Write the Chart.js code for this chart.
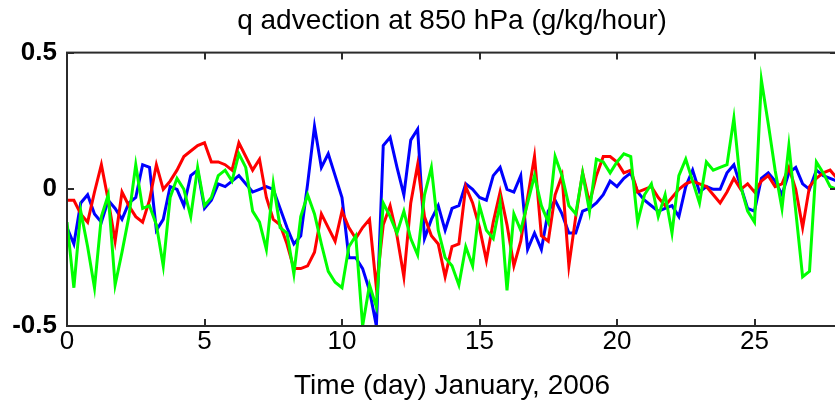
<!DOCTYPE html>
<html>
<head>
<meta charset="utf-8">
<script src="https://cdn.jsdelivr.net/npm/chart.js@4.4.1/dist/chart.umd.min.js"></script>
<style>
  html, body { margin: 0; padding: 0; background: #fff; overflow: hidden; }
  #wrap { position: relative; width: 837px; height: 408px; }
</style>
</head>
<body>
<div id="wrap"><canvas id="c"></canvas></div>
<script>
// time axis, days of January 2006 (6-hourly)
var days = [
  0, 0.25, 0.5, 0.75, 1, 1.25, 1.5, 1.75, 2, 2.25, 2.5, 2.75, 3, 3.25, 3.5, 3.75,
  4, 4.25, 4.5, 4.75, 5, 5.25, 5.5, 5.75, 6, 6.25, 6.5, 6.75, 7, 7.25, 7.5, 7.75,
  8, 8.25, 8.5, 8.75, 9, 9.25, 9.5, 9.75, 10, 10.25, 10.5, 10.75, 11, 11.25, 11.5, 11.75,
  12, 12.25, 12.5, 12.75, 13, 13.25, 13.5, 13.75, 14, 14.25, 14.5, 14.75, 15, 15.25, 15.5, 15.75,
  16, 16.25, 16.5, 16.75, 17, 17.25, 17.5, 17.75, 18, 18.25, 18.5, 18.75, 19, 19.25, 19.5, 19.75,
  20, 20.25, 20.5, 20.75, 21, 21.25, 21.5, 21.75, 22, 22.25, 22.5, 22.75, 23, 23.25, 23.5, 23.75,
  24, 24.25, 24.5, 24.75, 25, 25.25, 25.5, 25.75, 26, 26.25, 26.5, 26.75, 27, 27.25, 27.5, 27.75,
  28
];

// q advection (g/kg/hour), one row per day
var blueQ = [
  -0.14, -0.20, -0.05, -0.02,
  -0.09, -0.12, -0.04, -0.07,
  -0.11, -0.05, -0.03, 0.09,
  0.08, -0.15, -0.11, 0.01,
  0.00, -0.06, 0.05, 0.07,
  -0.07, -0.04, 0.02, 0.01,
  0.03, 0.05, 0.02, -0.01,
  0.00, 0.01, 0.00, -0.07,
  -0.14, -0.20, -0.17, 0.02,
  0.23, 0.08, 0.13, 0.05,
  -0.03, -0.25, -0.25, -0.29,
  -0.37, -0.50, 0.16, 0.19,
  0.08, -0.02, 0.18, 0.22,
  -0.18, -0.11, -0.06, -0.15,
  -0.07, -0.06, 0.02, 0.00,
  -0.03, -0.04, 0.05, 0.08,
  0.00, -0.01, 0.05, -0.22,
  -0.16, -0.22, -0.08, -0.04,
  -0.09, -0.16, -0.16, -0.08,
  -0.07, -0.05, -0.02, 0.03,
  0.01, 0.04, 0.06, -0.01,
  -0.04, -0.06, -0.08, -0.07,
  -0.06, -0.10, 0.01, 0.07,
  -0.01, 0.01, 0.00, 0.00,
  0.06, 0.09, 0.01, -0.07,
  -0.08, 0.04, 0.06, 0.03,
  -0.02, 0.06, 0.08, 0.02,
  0.00, 0.07, 0.05, 0.04,
  0.03
];

var redQ = [
  -0.04, -0.04, -0.09, -0.12,
  -0.01, 0.09, -0.04, -0.19,
  -0.01, -0.06, -0.10, -0.12,
  -0.04, 0.09, 0.00, 0.03,
  0.07, 0.12, 0.14, 0.16,
  0.17, 0.10, 0.10, 0.09,
  0.07, 0.17, 0.12, 0.07,
  0.11, -0.03, -0.11, -0.13,
  -0.20, -0.29, -0.29, -0.28,
  -0.23, -0.09, -0.14, -0.19,
  -0.08, -0.14, -0.18, -0.14,
  -0.11, -0.36, -0.13, -0.06,
  -0.17, -0.32, -0.05, 0.09,
  -0.10, -0.17, -0.20, -0.32,
  -0.21, -0.20, 0.01, -0.05,
  -0.14, -0.26, -0.12, -0.01,
  -0.13, -0.28, -0.19, -0.03,
  0.12, -0.17, -0.19, -0.02,
  0.05, -0.28, -0.10, 0.06,
  -0.05, 0.05, 0.12, 0.12,
  0.10, 0.06, 0.07, -0.01,
  0.00, 0.01, -0.03, -0.06,
  -0.03, 0.00, 0.02, 0.03,
  0.02, 0.01, -0.02, -0.05,
  -0.01, 0.04, 0.00, 0.02,
  -0.01, 0.03, 0.05, 0.01,
  0.02, 0.08, 0.00, -0.14,
  0.01, 0.04, 0.06, 0.07,
  0.04
];

var greenQ = [
  -0.12, -0.36, -0.08, -0.21,
  -0.36, -0.10, -0.02, -0.35,
  -0.23, -0.10, 0.09, -0.07,
  -0.06, -0.13, -0.28, -0.03,
  0.04, 0.00, -0.10, 0.08,
  -0.06, -0.03, 0.05, 0.07,
  0.03, 0.13, 0.08, -0.08,
  -0.12, -0.22, 0.02, -0.14,
  -0.16, -0.31, -0.10, -0.02,
  -0.09, -0.20, -0.30, -0.34,
  -0.36, -0.21, -0.17, -0.50,
  -0.35, -0.43, -0.05, -0.10,
  -0.16, -0.08, -0.18, -0.24,
  -0.02, 0.08, -0.15, -0.25,
  -0.28, -0.35, -0.21, -0.28,
  -0.06, -0.15, -0.18, -0.05,
  -0.37, -0.09, -0.15, -0.05,
  0.05, -0.06, -0.12, 0.12,
  0.05, -0.06, -0.09, 0.06,
  -0.08, 0.11, 0.10, 0.06,
  0.10, 0.13, 0.12, -0.12,
  -0.02, 0.02, -0.10, -0.02,
  -0.16, 0.05, 0.11, 0.03,
  -0.05, 0.10, 0.07, 0.08,
  0.09, 0.26, 0.01, -0.08,
  -0.12, 0.40, 0.24, 0.07,
  -0.07, 0.16, -0.08, -0.32,
  -0.30, 0.10, 0.06, 0.01,
  0.00
];

var xTicks = [0, 5, 10, 15, 20, 25];
var yTicks = [-0.5, 0, 0.5];

var AXIS_COLOR = "#2b2b2b";
var TICK_LEN = 7;

Chart.defaults.font.family = "'Liberation Sans', Arial, sans-serif";
Chart.defaults.color = "#000";

function pts(ys) {
  return days.map(function(d, i) { return { x: d, y: ys[i] }; });
}

function series(data, color, order) {
  return {
    data: pts(data),
    borderColor: color,
    backgroundColor: color,
    borderWidth: 3,
    pointRadius: 0,
    tension: 0,
    fill: false,
    order: order
  };
}

// matlab style box with inward ticks
var boxTicks = {
  id: "boxTicks",
  afterDatasetsDraw: function(chart) {
    var ctx = chart.ctx, a = chart.chartArea;
    var xs = chart.scales.x, ys = chart.scales.y;
    ctx.save();
    ctx.strokeStyle = AXIS_COLOR;
    ctx.lineWidth = 2;
    ctx.strokeRect(a.left, a.top, a.right - a.left, a.bottom - a.top);
    ctx.beginPath();
    xTicks.forEach(function(v) {
      var px = Math.round(xs.getPixelForValue(v));
      ctx.moveTo(px, a.top); ctx.lineTo(px, a.top + TICK_LEN);
      ctx.moveTo(px, a.bottom); ctx.lineTo(px, a.bottom - TICK_LEN);
    });
    yTicks.forEach(function(v) {
      var py = Math.round(ys.getPixelForValue(v));
      ctx.moveTo(a.left, py); ctx.lineTo(a.left + TICK_LEN, py);
      ctx.moveTo(a.right, py); ctx.lineTo(a.right - TICK_LEN, py);
    });
    ctx.stroke();
    ctx.restore();
  }
};

new Chart(document.getElementById("c"), {
  type: "line",
  data: {
    datasets: [
      series(blueQ, "#0000ff", 2),
      series(redQ, "#ff0000", 1),
      series(greenQ, "#00ff00", 0)
    ]
  },
  options: {
    responsive: true,
    maintainAspectRatio: false,
    animation: false,
    layout: { padding: 0 },
    plugins: {
      legend: { display: false },
      tooltip: { enabled: false },
      title: {
        display: true,
        fullSize: false,
        text: "q advection at 850 hPa (g/kg/hour)",
        font: { size: 28, weight: "normal" },
        color: "#000",
        padding: { top: 4, bottom: 15 }
      }
    },
    scales: {
      x: {
        type: "linear",
        min: 0,
        max: 28,
        afterBuildTicks: function(s) { s.ticks = xTicks.map(function(v) { return { value: v }; }); },
        afterFit: function(s) { s.height = 82; },
        grid: { display: false, drawTicks: false },
        border: { display: false },
        ticks: { padding: 0, font: { size: 26 }, maxRotation: 0, callback: function(v) { return String(v); } },
        title: {
          display: true,
          text: "Time (day) January, 2006",
          font: { size: 28 },
          color: "#000",
          padding: { top: 0, bottom: 5 }
        }
      },
      y: {
        min: -0.5,
        max: 0.5,
        afterBuildTicks: function(s) { s.ticks = yTicks.map(function(v) { return { value: v }; }); },
        afterFit: function(s) { s.width = 67; },
        grid: { display: false, drawTicks: false },
        border: { display: false },
        ticks: { padding: 10, font: { size: 26, weight: "bold" }, callback: function(v) { return String(v); } }
      }
    }
  },
  plugins: [boxTicks]
});
</script>
</body>
</html>
